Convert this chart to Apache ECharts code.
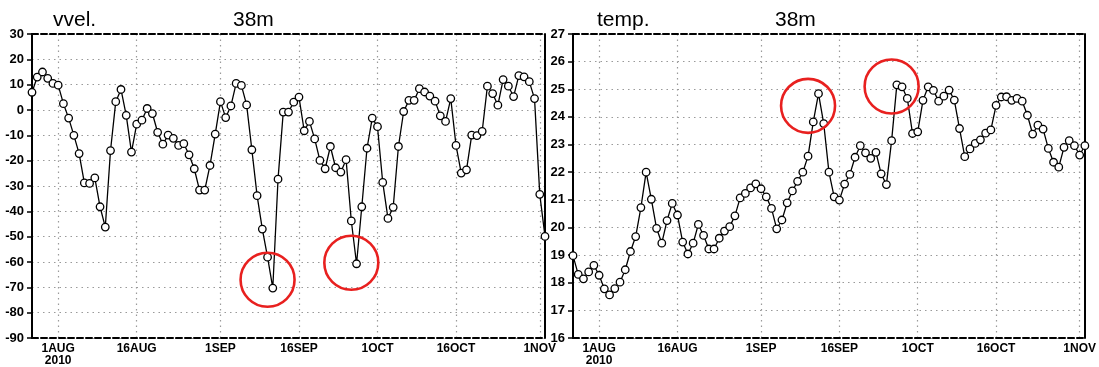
<!DOCTYPE html>
<html>
<head>
<meta charset="UTF-8">
<title>vvel / temp 38m</title>
<script src="https://cdn.jsdelivr.net/npm/echarts@6/dist/echarts.min.js"></script>
<style>
  html, body { margin: 0; padding: 0; background: #fff; }
  #main { width: 1099px; height: 367px; }
</style>
</head>
<body>
<div id="main"></div>
<script>
// daily values, 27JUL2010 .. 2NOV2010 (99 days)
const vvel = [
  7, 13, 15, 12.5, 10.5, 9.8, 2.5, -3.2, -10, -17.2,
  -28.8, -29, -26.8, -38.2, -46.2, -16, 3.3, 8.1, -2.1, -16.6,
  -5.6, -4, 0.6, -1.4, -8.8, -13.5, -9.9, -11.2, -14, -13.3,
  -17.7, -23.2, -31.6, -31.6, -21.9, -9.5, 3.3, -3, 1.6, 10.5,
  9.7, 2, -15.7, -33.8, -47, -58.1, -70.3, -27.3, -0.8, -0.8,
  3.1, 5.1, -8.2, -4.5, -11.4, -19.9, -23.2, -14.4, -22.8, -24.5,
  -19.6, -43.8, -60.7, -38.2, -15.1, -3.2, -6.6, -28.6, -42.8, -38.4,
  -14.4, -0.6, 3.8, 3.8, 8.4, 7.1, 5.5, 3.5, -2.3, -4.5,
  4.5, -14, -24.9, -23.6, -9.9, -10.1, -8.4, 9.4, 6.5, 1.9,
  12, 9.4, 5.3, 13.6, 13.1, 11.2, 4.5, -33.3, -49.9
]
const temp = [
  18.98, 18.3, 18.14, 18.39, 18.63, 18.27, 17.78, 17.56, 17.79, 18.02,
  18.47, 19.13, 19.67, 20.72, 22.0, 21.02, 19.97, 19.43, 20.25, 20.87,
  20.45, 19.47, 19.04, 19.43, 20.11, 19.71, 19.22, 19.22, 19.61, 19.87,
  20.03, 20.42, 21.07, 21.23, 21.43, 21.58, 21.4, 21.11, 20.69, 19.95,
  20.27, 20.89, 21.32, 21.67, 22.0, 22.58, 23.82, 24.84, 23.76, 22.0,
  21.11, 20.99, 21.57, 21.92, 22.54, 22.96, 22.7, 22.5, 22.72, 21.94,
  21.55, 23.14, 25.16, 25.09, 24.67, 23.4, 23.46, 24.6, 25.09, 24.96,
  24.57, 24.75, 24.97, 24.61, 23.58, 22.56, 22.84, 23.04, 23.17, 23.41,
  23.53, 24.42, 24.72, 24.73, 24.6, 24.67, 24.57, 24.06, 23.38, 23.7,
  23.56, 22.86, 22.36, 22.18, 22.9, 23.14, 22.96, 22.62, 22.96
]
// highlighted spots [day index, value]
const vvelCircles = [[45, -67], [61, -60.3]]
const tempCircles = [[45, 24.4], [61, 25.1]]
// labelled dates (day index)
const tickDays = [5, 20, 36, 51, 66, 81, 97]

const months = ['JAN','FEB','MAR','APR','MAY','JUN','JUL','AUG','SEP','OCT','NOV','DEC']
const days = []
for (let i = 0; i < vvel.length; i++) {
  const d = new Date(Date.UTC(2010, 6, 27 + i))
  days.push(d.getUTCDate() + months[d.getUTCMonth()])
}

const chart = echarts.init(document.getElementById('main'))

const isTick = (i) => tickDays.includes(i)
const dotted = { color: '#9a9a9a', width: 1.2, type: [1.5, 4] }

function bottomAxis(gi) {
  return {
    type: 'category', gridIndex: gi, data: days, boundaryGap: false,
    axisLine: { onZero: false, lineStyle: { color: '#000', width: 2, type: [6, 3] } },
    axisTick: { show: false },
    axisLabel: {
      interval: isTick, color: '#000', fontWeight: 'bold', fontSize: 12,
      fontFamily: 'Liberation Sans Narrow, Liberation Sans, sans-serif',
      margin: 5, lineHeight: 12,
      formatter: v => v === '1AUG' ? '1AUG\n2010' : v
    },
    splitLine: { show: true, interval: isTick, lineStyle: dotted }
  }
}
function topAxis(gi) {
  return {
    type: 'category', gridIndex: gi, data: days, boundaryGap: false, position: 'top',
    axisLine: { onZero: false, lineStyle: { color: '#000', width: 2, type: [6, 3] } },
    axisTick: { show: false }, axisLabel: { show: false }, splitLine: { show: false }
  }
}
function leftAxis(gi, min, max, step) {
  return {
    type: 'value', gridIndex: gi, min: min, max: max, interval: step,
    axisLine: { show: true, onZero: false, lineStyle: { color: '#000', width: 2 } },
    axisTick: { show: true, length: 5, lineStyle: { color: '#000', width: 1.5 } },
    axisLabel: { color: '#000', fontWeight: 'bold', fontSize: 13, fontFamily: 'Liberation Sans, sans-serif', margin: 8 },
    splitLine: { show: true, lineStyle: dotted }
  }
}
function rightAxis(gi, min, max) {
  return {
    type: 'value', gridIndex: gi, min: min, max: max, position: 'right',
    axisLine: { show: true, onZero: false, lineStyle: { color: '#000', width: 2 } },
    axisTick: { show: false }, axisLabel: { show: false }, splitLine: { show: false }
  }
}
function lineSeries(name, data, xi, yi, circles) {
  return {
    name: name, type: 'line', xAxisIndex: xi, yAxisIndex: yi, data: data,
    symbol: 'circle', symbolSize: 7.5, showSymbol: true, showAllSymbol: true,
    lineStyle: { color: '#000', width: 1.3 },
    itemStyle: { color: '#fff', borderColor: '#000', borderWidth: 1.3 },
    markPoint: {
      symbol: 'circle', symbolSize: 54, silent: true,
      itemStyle: { color: 'rgba(0,0,0,0)', borderColor: '#e8201f', borderWidth: 2.6 },
      label: { show: false },
      data: circles.map(c => ({ coord: c }))
    }
  }
}

const titleFont = { fontSize: 21, fontWeight: 'normal', color: '#000', fontFamily: 'Liberation Sans, sans-serif' }

const option = {
  animation: false,
  backgroundColor: '#fff',
  title: [
    { text: 'vvel.', left: 53, top: 10, padding: 0, textStyle: titleFont },
    { text: '38m', left: 233, top: 10, padding: 0, textStyle: titleFont },
    { text: 'temp.', left: 597, top: 10, padding: 0, textStyle: titleFont },
    { text: '38m', left: 775, top: 10, padding: 0, textStyle: titleFont }
  ],
  grid: [
    { left: 32, right: 554, top: 34, bottom: 26 },
    { left: 573, right: 11, top: 34, bottom: 26 }
  ],
  xAxis: [bottomAxis(0), topAxis(0), bottomAxis(1), topAxis(1)],
  yAxis: [leftAxis(0, -90, 30, 10), rightAxis(0, -90, 30), leftAxis(1, 16, 27, 1), rightAxis(1, 16, 27)],
  series: [
    lineSeries('vvel', vvel, 0, 0, vvelCircles),
    lineSeries('temp', temp, 2, 2, tempCircles)
  ]
}

chart.setOption(option)
</script>
</body>
</html>
